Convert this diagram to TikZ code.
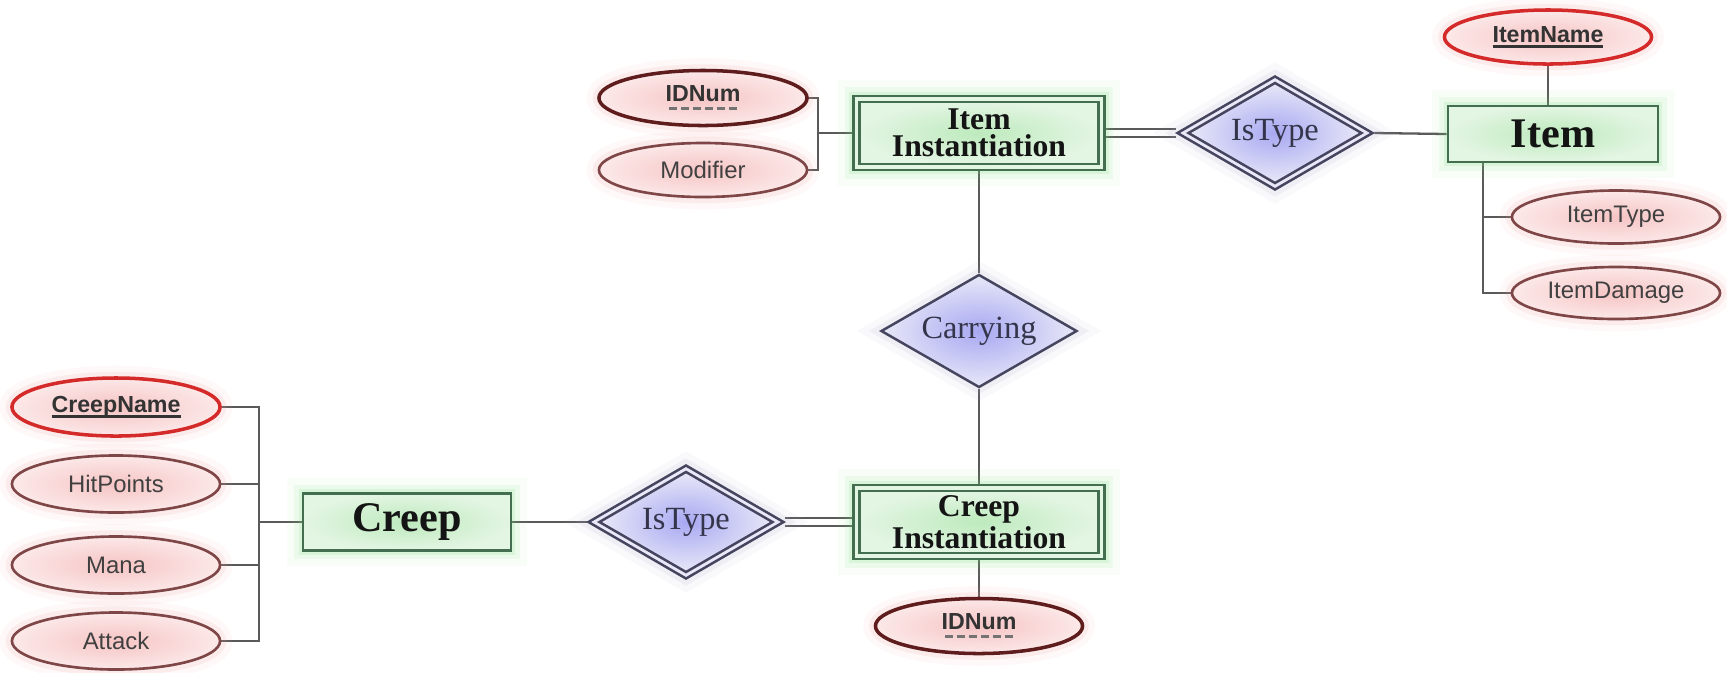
\documentclass[tikz,border=0pt]{standalone}
\usepackage{fontspec}
\setmainfont{Liberation Serif}
\setsansfont{Liberation Sans}
\usetikzlibrary{shapes.geometric,backgrounds,calc}

% solid underline for keys, dashed underline for partial keys
\newcommand\keyul[1]{\setbox0=\hbox{#1}\rlap{\rule[-1.5pt]{\wd0}{0.8pt}}\box0}
\newcommand\partul[1]{\setbox0=\hbox{#1}\rlap{\hbox to \wd0{\color{black!55}\cleaders\hbox{\kern0.55pt\rule[-2.5pt]{2.3pt}{1pt}\kern0.55pt}\hfill}}\box0}

\definecolor{entfill}{HTML}{E3F5E3}
\definecolor{entcore}{HTML}{BDEABD}
\definecolor{entline}{HTML}{436E50}
\definecolor{attfill}{HTML}{FCE8E8}
\definecolor{attcore}{HTML}{F6C4C4}
\definecolor{attline}{HTML}{7E4646}
\definecolor{keyline}{HTML}{D42A2A}
\definecolor{pkline}{HTML}{5E1C1C}
\definecolor{relfill}{HTML}{E8E8F8}
\definecolor{relcore}{HTML}{A8A8F2}
\definecolor{relline}{HTML}{45455F}
\definecolor{wirec}{HTML}{5A5A5A}
\definecolor{glowgreen}{HTML}{7CE07C}
\definecolor{glowred}{HTML}{F09090}
\definecolor{glowblue}{HTML}{A0A0C8}
\definecolor{textrel}{HTML}{34344A}

\tikzset{
  glowG/.style={preaction={draw=glowgreen, line width=9pt, draw opacity=0.05, rounded corners=4pt},
                preaction={draw=glowgreen, line width=5pt, draw opacity=0.09, rounded corners=2pt},
                preaction={draw=glowgreen, line width=2.5pt, draw opacity=0.16}},
  glowR/.style={preaction={draw=glowred, line width=7pt, draw opacity=0.06},
                preaction={draw=glowred, line width=3.5pt, draw opacity=0.12}},
  glowB/.style={preaction={draw=glowblue, line width=7pt, draw opacity=0.06},
                preaction={draw=glowblue, line width=3.5pt, draw opacity=0.12}},
  wire/.style={draw=wirec, line width=0.65pt},
  dblwire/.style={draw=wirec, line width=0.65pt, double=white, double distance=1.7pt},
  entity/.style={rectangle, draw=entline, line width=0.8pt, inner color=entcore,
    outer color=entfill, minimum width=2.1cm, minimum height=0.56cm, inner sep=0pt,
    font=\fontsize{12}{13}\selectfont\bfseries, text=black!92, glowG},
  weakouter/.style={rectangle, draw=entline, line width=0.8pt, fill=entfill,
    minimum width=2.51cm, minimum height=0.74cm, inner sep=0pt, glowG},
  weakinner/.style={rectangle, draw=entline, line width=0.8pt, inner color=entcore,
    outer color=entfill, minimum width=2.39cm, minimum height=0.62cm, inner sep=0pt,
    align=center, font=\fontsize{9}{7.6}\selectfont\bfseries, text=black!92},
  attr/.style={ellipse, draw=attline, line width=0.75pt, inner color=attcore,
    outer color=attfill, minimum width=2.08cm, minimum height=0.55cm, inner sep=0pt,
    font=\sffamily\fontsize{6.8}{8}\selectfont, text=black!75, glowR},
  keyattr/.style={attr, draw=keyline, line width=1pt,
    font=\sffamily\bfseries\fontsize{6.6}{8}\selectfont, text=black!80},
  partkey/.style={attr, draw=pkline, line width=1pt,
    font=\sffamily\bfseries\fontsize{6.6}{8}\selectfont, text=black!80},
  rel/.style={diamond, aspect=1.7, draw=relline, line width=0.7pt, inner color=relcore,
    outer color=relfill, minimum width=1.96cm, minimum height=1.13cm, inner sep=0pt,
    font=\fontsize{9.2}{10}\selectfont, text=textrel, glowB},
  weakrelouter/.style={diamond, aspect=1.7, draw=relline, line width=0.7pt, fill=relfill,
    minimum width=1.96cm, minimum height=1.14cm, inner sep=0pt, glowB},
  weakrelinner/.style={diamond, aspect=1.7, draw=relline, line width=0.7pt,
    inner color=relcore, outer color=relfill, minimum width=1.74cm,
    minimum height=1.01cm, inner sep=0pt, font=\fontsize{9.2}{10}\selectfont, text=textrel},
}

\begin{document}
\begin{tikzpicture}[x=0.01cm, y=-0.01cm]
\useasboundingbox (0,0) rectangle (1727,672);

% ---- Item instantiation side ----
\node[weakouter] (iteminst) at (979,133) {};
\node[weakinner] (iteminstin) at (iteminst) {Item\\Instantiation};
\node[partkey] (idnumA) at (703,98) {\partul{IDNum}};
\node[attr, minimum height=0.54cm] (modifier) at (703,170) {Modifier};
\coordinate (brA) at (818,133);

\node[weakrelouter] (istypeA) at (1275,133) {};
\node[weakrelinner] (istypeAin) at (istypeA) {IsType};

\node[entity] (item) at (1553,134) {Item};
\node[keyattr, minimum width=2.07cm, minimum height=0.54cm] (itemname) at (1548,37) {\keyul{ItemName}};
\node[attr, minimum height=0.53cm] (itemtype) at (1616,217) {ItemType};
\node[attr, minimum height=0.52cm] (itemdamage) at (1616,293) {ItemDamage};
\coordinate (itemcorner) at (1483,293);

% ---- relationship between the two instantiations ----
\node[rel] (carrying) at (979,331) {Carrying};

% ---- Creep side ----
\node[weakouter] (creepinst) at (979,522) {};
\node[weakinner] (creepinstin) at (creepinst) {Creep\\Instantiation};
\node[partkey, minimum width=2.07cm] (idnumB) at (979,626) {\partul{IDNum}};

\node[weakrelouter] (istypeB) at (686,522) {};
\node[weakrelinner] (istypeBin) at (istypeB) {IsType};

\node[entity, minimum width=2.08cm, minimum height=0.57cm] (creep) at (407,522) {Creep};
\node[keyattr, minimum height=0.58cm] (creepname) at (116,407) {\keyul{CreepName}};
\node[attr, minimum height=0.57cm] (hitpoints) at (116,484) {HitPoints};
\node[attr, minimum height=0.57cm] (mana) at (116,565) {Mana};
\node[attr, minimum height=0.57cm] (attack) at (116,641) {Attack};
\coordinate (cbr) at (259,522);

% ---- connectors ----
\begin{scope}[on background layer]
  \fill[white] (0,0) rectangle (1727,672);
  \draw[wire] (idnumA.east) -| (brA) |- (modifier.east);
  \draw[wire] (brA) -- (iteminst.west);
  \draw[dblwire] (iteminst.east) -- (istypeA.west);
  \draw[wire] (istypeA.east) -- (item.west);
  \draw[wire] (itemname.south) -- (itemname.south |- item.north);
  \draw[wire] (item.south -| itemcorner) -- (itemcorner) -- (itemdamage.west);
  \draw[wire] (itemtype.west) -- (itemtype.west -| itemcorner);
  \draw[wire] (iteminst.south) -- (carrying.north);
  \draw[wire] (carrying.south) -- (creepinst.north);
  \draw[wire] (creepinst.south) -- (idnumB.north);
  \draw[dblwire] (istypeB.east) -- (creepinst.west);
  \draw[wire] (creep.east) -- (istypeB.west);
  \draw[wire] (creepname.east) -| (cbr) |- (attack.east);
  \draw[wire] (hitpoints.east) -- (hitpoints.east -| cbr);
  \draw[wire] (mana.east) -- (mana.east -| cbr);
  \draw[wire] (cbr) -- (creep.west);
\end{scope}
\end{tikzpicture}
\end{document}
